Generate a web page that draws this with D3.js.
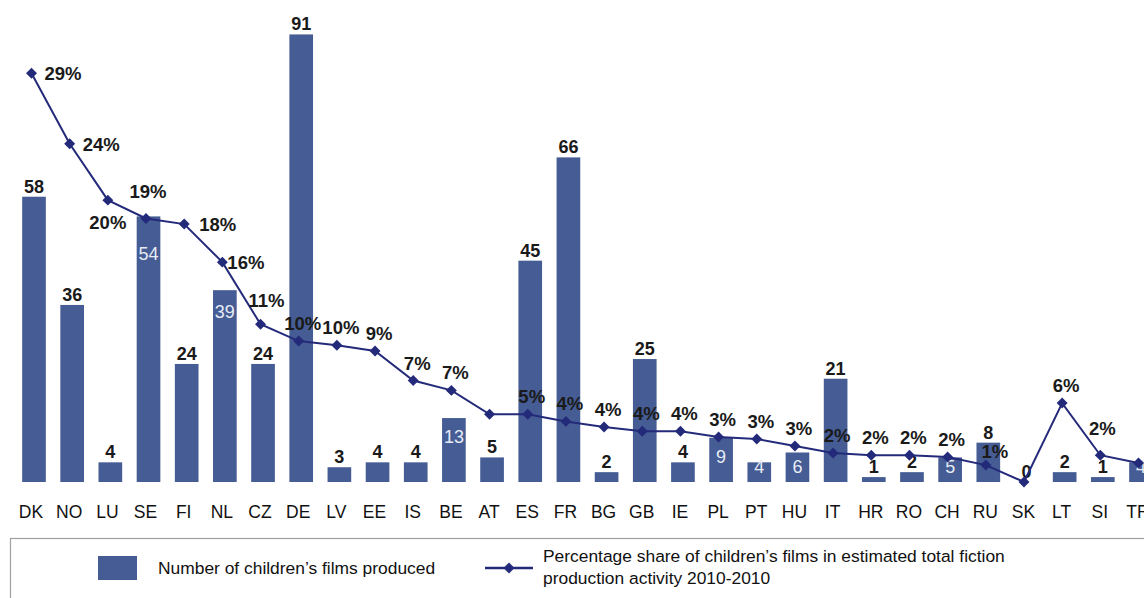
<!DOCTYPE html>
<html><head><meta charset="utf-8">
<script src="https://cdn.jsdelivr.net/npm/d3@7"></script>
<style>body{margin:0;background:#fff}svg{display:block}text{font-family:"Liberation Sans",Arial,sans-serif}</style>
</head><body><svg id="c" width="1144" height="598"></svg>
<script>
const countries = ["DK","NO","LU","SE","FI","NL","CZ","DE","LV","EE","IS","BE","AT","ES","FR","BG","GB","IE","PL","PT","HU","IT","HR","RO","CH","RU","SK","LT","SI","TR"];
const films = [58,36,4,54,24,39,24,91,3,4,4,13,5,45,66,2,25,4,9,4,6,21,1,2,5,8,0,2,1,4];
const share = [29,24,20,18.7,18.3,15.6,11.2,10,9.7,9.3,7.2,6.5,4.8,4.8,4.3,3.9,3.6,3.6,3.2,3.05,2.55,2.06,1.9,1.9,1.77,1.2,0,5.6,1.9,1.35];
const shareLabels = ["29%","24%","20%","19%","18%","16%","11%","10%","10%","9%","7%","7%","","5%","4%","4%","4%","4%","3%","3%","3%","2%","2%","2%","2%","1%","","6%","2%",""];
const legendLabels = ["Number of children\u2019s films produced","Percentage share of children\u2019s films in estimated total fiction","production activity 2010-2010"];

const svg = d3.select("#c");
const base = 482;
const x = d3.scalePoint().domain(countries).range([34, 1141]);
const xl = d3.scalePoint().domain(countries).range([31.5, 1138.5]);
const bw = x.step()*0.62;
const yB = d3.scaleLinear().domain([0,98]).range([base,0]);
const yL = d3.scaleLinear().domain([0,34.2]).range([base,0]);
const barColor = "#455c94", lineColor = "#242a7a";
const inside = new Set(["SE","NL","BE","PL","PT","HU","CH","TR"]);
const insideDy = {SE:44, NL:28};

const data = countries.map((c,i)=>({c, v:films[i], s:share[i], sl:shareLabels[i]}));

svg.append("g").selectAll("rect").data(data).join("rect")
  .attr("x",d=>x(d.c)-bw/2).attr("width",bw)
  .attr("y",d=>yB(d.v)).attr("height",d=>base-yB(d.v))
  .attr("fill",barColor);

// bar labels
svg.append("g").selectAll("text").data(data).join("text")
  .attr("x",d=>x(d.c))
  .attr("y",d=>inside.has(d.c)? Math.min(yB(d.v)+(insideDy[d.c]||25), base-9) : yB(d.v)-4)
  .attr("text-anchor","middle")
  .attr("font-size",18)
  .attr("font-weight",d=>inside.has(d.c)?"normal":"bold")
  .attr("fill",d=>inside.has(d.c)?"#e6ebf5":"#1a1a1a")
  .text(d=>d.v);

// line
svg.append("path").datum(data)
  .attr("d",d3.line().x(d=>xl(d.c)).y(d=>yL(d.s)))
  .attr("fill","none").attr("stroke",lineColor).attr("stroke-width",2);
svg.append("g").selectAll("path").data(data).join("path")
  .attr("d",d3.symbol(d3.symbolSquare,60))
  .attr("transform",d=>`translate(${xl(d.c)},${yL(d.s)}) rotate(45)`)
  .attr("fill",lineColor);

// percentage labels placement
const place = {DK:[13,7,"start"],NO:[13,7,"start"],LU:[0,29,"middle"],SE:[2,-20,"middle"],FI:[15,7,"start"],NL:[5,7,"start"],CZ:[6,-17,"middle"],RU:[9,-7,"middle"],SI:[2,-20,"middle"]};
svg.append("g").selectAll("text").data(data.filter(d=>d.sl)).join("text")
  .each(function(d){
    const p = place[d.c] || [4,-11,"middle"];
    d3.select(this).attr("x",xl(d.c)+p[0]).attr("y",yL(d.s)+p[1]).attr("text-anchor",p[2]);
  })
  .attr("font-size",18.5).attr("font-weight","bold").attr("fill","#1a1a1a")
  .text(d=>d.sl);

// x axis labels
svg.append("g").selectAll("text").data(countries).join("text")
  .attr("x",d=>x(d)-3).attr("y",518).attr("text-anchor","middle")
  .attr("font-size",17.5).attr("fill","#111").text(d=>d);

// legend
const lg = svg.append("g");
lg.append("rect").attr("x",10.5).attr("y",538.5).attr("width",1150).attr("height",80)
  .attr("fill","none").attr("stroke","#a0a0a0").attr("stroke-width",1.2);
lg.append("rect").attr("x",98).attr("y",556).attr("width",39).attr("height",24).attr("fill",barColor);
lg.append("text").attr("x",158).attr("y",574).attr("font-size",17.4).attr("fill","#111").text(legendLabels[0]);
lg.append("line").attr("x1",485).attr("x2",533).attr("y1",568).attr("y2",568).attr("stroke",lineColor).attr("stroke-width",2.5);
lg.append("path").attr("d",d3.symbol(d3.symbolSquare,60)).attr("transform","translate(509,568) rotate(45)").attr("fill",lineColor);
lg.append("text").attr("x",543).attr("y",562).attr("font-size",17.4).attr("fill","#111").text(legendLabels[1]);
lg.append("text").attr("x",543).attr("y",584).attr("font-size",17.4).attr("fill","#111").text(legendLabels[2]);
</script></body></html>
